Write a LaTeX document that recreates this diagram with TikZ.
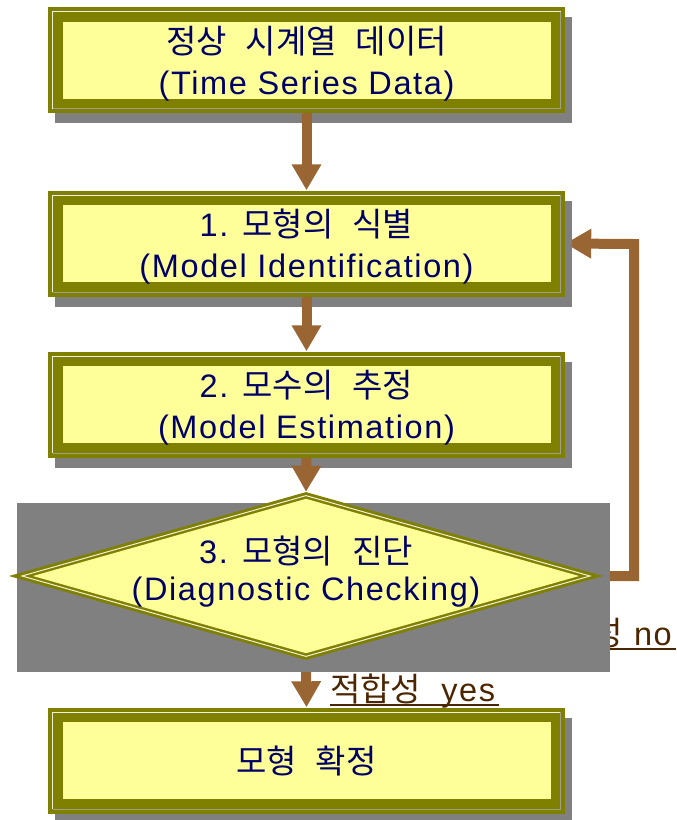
\documentclass[tikz,border=0pt]{standalone}
\usepackage{fontspec}
\setmainfont{Noto Sans CJK KR}
\newfontfamily\krf{Noto Sans CJK KR}
\newfontfamily\enf{Liberation Sans}[LetterSpace=5]
\usetikzlibrary{arrows.meta,shapes.geometric,shadows,calc}

\definecolor{boxolive}{HTML}{808000}
\definecolor{boxyellow}{HTML}{FFFF99}
\definecolor{shadowgray}{HTML}{808080}
\definecolor{navytext}{HTML}{000066}
\definecolor{flowbrown}{HTML}{996633}
\definecolor{labelbrown}{HTML}{4C2600}
\definecolor{hilite}{HTML}{F0F0D8}
\definecolor{lowlite}{HTML}{A0A088}

\pgfdeclarelayer{under}
\pgfdeclarelayer{shade}
\pgfsetlayers{under,shade,main}

% Hangul and Latin runs are set in separate faces
\newcommand{\kr}[1]{{\krf\fontsize{33}{40}\selectfont #1}}
\newcommand{\en}[1]{{\enf\fontsize{32.5}{40}\selectfont #1}}
\newcommand{\wsp}{\hspace{19pt}}

\tikzset{
  stepbox/.style={rectangle, fill=boxolive, minimum width=517pt, minimum height=106pt,
    inner sep=0pt,
    drop shadow={shadow xshift=7pt, shadow yshift=-10pt, fill=shadowgray, opacity=1},
    path picture={
      \fill[boxyellow]
        ([shift={(14.5pt,-14.5pt)}]path picture bounding box.north west) rectangle
        ([shift={(-14.5pt,14.5pt)}]path picture bounding box.south east);
      \draw[hilite, line width=1pt]
        ([shift={(4.5pt,4.5pt)}]path picture bounding box.south west) --
        ([shift={(4.5pt,-4.5pt)}]path picture bounding box.north west) --
        ([shift={(-4.5pt,-4.5pt)}]path picture bounding box.north east);
      \draw[lowlite, line width=1pt]
        ([shift={(-4.5pt,-4.5pt)}]path picture bounding box.north east) --
        ([shift={(-4.5pt,4.5pt)}]path picture bounding box.south east) --
        ([shift={(4.5pt,4.5pt)}]path picture bounding box.south west);
    }},
  steptext/.style={inner sep=0pt, anchor=base, text=navytext},
  flow/.style={draw=flowbrown, line width=10pt,
    -{Triangle[length=26pt,width=28pt]}},
  tagtext/.style={inner sep=0pt, text=labelbrown},
  tagline/.style={draw=labelbrown, line width=2pt},
}

\begin{document}
\begin{tikzpicture}[x=1pt, y=-1pt]
  \useasboundingbox (0,0) rectangle (677,820);

  % process boxes
  \node[stepbox] (b1) at (306.5,60)    {};
  \node[stepbox] (b2) at (306.5,243.5) {};
  \node[stepbox] (b3) at (306.5,404.5) {};
  \node[stepbox] (b5) at (306.5,760.5) {};

  \node[steptext] (t1a) at ($(b1.center)+(0,-7)$) {\kr{정상}\wsp\kr{시계열}\wsp\kr{데이터}};
  \node[steptext] (t1b) at ($(b1.center)+(0,34)$) {\en{(Time Series Data)}};
  \node[steptext] (t2a) at ($(b2.center)+(0,-7)$) {\en{1. }\kr{모형의}\wsp\kr{식별}};
  \node[steptext] (t2b) at ($(b2.center)+(0,34)$) {\en{(Model Identification)}};
  \node[steptext] (t3a) at ($(b3.center)+(0,-7)$) {\en{2. }\kr{모수의}\wsp\kr{추정}};
  \node[steptext] (t3b) at ($(b3.center)+(0,34)$) {\en{(Model Estimation)}};
  \node[steptext] (t5)  at ($(b5.center)+(0,13)$) {\kr{모형}\wsp\kr{확정}};

  % decision diamond with its double border
  \node[diamond, fill=boxolive, minimum width=594pt, minimum height=168pt,
        inner sep=0pt] (d) at (306,576) {};
  \fill[boxyellow] ($(d.center)+(-273pt,0)$) -- ($(d.center)+(0,77.2pt)$)
     -- ($(d.center)+(273pt,0)$) -- ($(d.center)+(0,-77.2pt)$) -- cycle;
  \draw[hilite, line width=1pt] ($(d.center)+(-284pt,0)$) -- ($(d.center)+(0,80.4pt)$)
     -- ($(d.center)+(284pt,0)$) -- ($(d.center)+(0,-80.4pt)$) -- cycle;
  \node[steptext] (dta) at ($(d.center)+(0,-13)$) {\en{3. }\kr{모형의}\wsp\kr{진단}};
  \node[steptext] (dtb) at ($(d.center)+(0,24)$) {\en{(Diagnostic Checking)}};

  % rectangular shadow behind the diamond
  \begin{pgfonlayer}{shade}
    \fill[shadowgray] ($(d.west |- d.north)+(8pt,-11pt)$) rectangle
                      ($(d.east |- d.south)+(7pt,-12pt)$);
  \end{pgfonlayer}

  % main flow
  \draw[flow] (b1.south) -- (b2.north);
  \draw[flow] (b2.south) -- (b3.north);
  \draw[flow] (b3.south) -- (d.north);

  \begin{pgfonlayer}{under}
    \draw[flow] (d.south) -- (b5.north);
    % feedback loop back to identification
    \coordinate (loop) at (634,244);
    \draw[flow] (d.east) -| (loop) -- (b2.east);
    % outcome label on the loop
    \node[tagtext, anchor=base east] (no) at (672,645) {\kr{적합성}\hspace{11pt}\en{no}};
    \draw[tagline] ($(no.base west)+(0,-4pt)$) -- ($(no.base east)+(4pt,-4pt)$);
  \end{pgfonlayer}

  \node[tagtext, anchor=base west] (yes) at (330,701) {\kr{적합성}\hspace{20pt}\en{yes}};
  \draw[tagline] ($(yes.base west)+(0,-4pt)$) -- ($(yes.base east)+(4pt,-4pt)$);
\end{tikzpicture}
\end{document}
